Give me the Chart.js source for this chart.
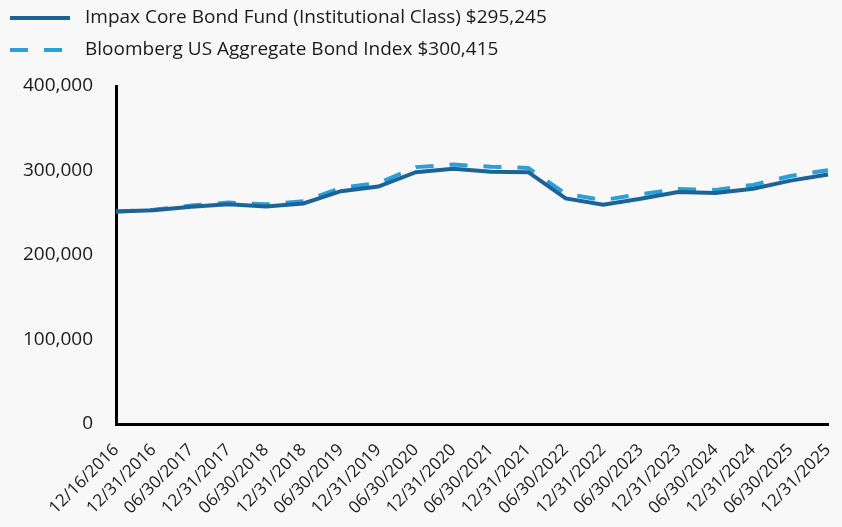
<!DOCTYPE html>
<html>
<head>
<meta charset="utf-8">
<script src="https://cdn.jsdelivr.net/npm/chart.js@4.4.1/dist/chart.umd.min.js"></script>
<style>
    html, body { margin: 0; padding: 0; background: #f8f8f8; }
    #wrap { width: 842px; height: 527px; position: relative; }
</style>
</head>
<body>
<div id="wrap"><canvas id="growthChart"></canvas></div>
<script>
const dates = ['12/16/2016', '12/31/2016', '06/30/2017', '12/31/2017', '06/30/2018', '12/31/2018',
    '06/30/2019', '12/31/2019', '06/30/2020', '12/31/2020', '06/30/2021', '12/31/2021',
    '06/30/2022', '12/31/2022', '06/30/2023', '12/31/2023', '06/30/2024', '12/31/2024',
    '06/30/2025', '12/31/2025'];

const fundValues = [251500, 253000, 257000, 260000, 257500, 261000, 275500, 281000, 298000, 302000,
    298500, 298000, 267000, 259500, 266500, 274500, 273500, 278500, 288000, 295245];

const indexValues = [251500, 253500, 258500, 262000, 260000, 263500, 279500, 285000, 304000, 307000,
    304500, 303000, 272500, 265000, 272000, 278000, 277000, 283000, 293500, 300415];

const yTicks = [0, 100000, 200000, 300000, 400000];

const fundLabel = 'Impax Core Bond Fund (Institutional Class) $295,245';
const indexLabel = 'Bloomberg US Aggregate Bond Index $300,415';

const FONT = '"Open Sans", sans-serif';

// legend drawn by hand, stacked on two rows at top left
const stackedLegend = {
    id: 'stackedLegend',
    afterDraw(chart) {
        const { ctx } = chart;
        const rows = [
            { ds: chart.data.datasets[0], y: 18 },
            { ds: chart.data.datasets[1], y: 50 }
        ];
        rows.forEach(row => {
            ctx.save();
            ctx.strokeStyle = row.ds.borderColor;
            ctx.lineWidth = 4;
            ctx.setLineDash(row.ds.borderDash || []);
            ctx.beginPath();
            ctx.moveTo(10, row.y);
            ctx.lineTo(70, row.y);
            ctx.stroke();
            ctx.setLineDash([]);
            ctx.fillStyle = '#1a1a1a';
            ctx.font = '19px ' + FONT;
            ctx.textAlign = 'left';
            ctx.textBaseline = 'middle';
            ctx.fillText(row.ds.label, 85, row.y);
            ctx.restore();
        });
    }
};

new Chart(document.getElementById('growthChart'), {
    type: 'line',
    data: {
        labels: dates,
        datasets: [{
            label: fundLabel,
            data: fundValues,
            borderColor: '#1c6397',
            borderWidth: 4,
            pointRadius: 0,
            tension: 0,
            order: 1
        }, {
            label: indexLabel,
            data: indexValues,
            borderColor: '#2aa0da',
            borderWidth: 4,
            borderDash: [18, 16],
            pointRadius: 0,
            tension: 0,
            order: 2
        }]
    },
    options: {
        responsive: true,
        maintainAspectRatio: false,
        animation: false,
        layout: {
            padding: { top: 86, left: 0, right: 14, bottom: 0 }
        },
        scales: {
            x: {
                offset: false,
                grid: { display: false, drawTicks: false },
                border: { display: true, color: '#000', width: 3 },
                ticks: {
                    color: '#1a1a1a',
                    font: { family: FONT, size: 17 },
                    maxRotation: 45,
                    minRotation: 45,
                    autoSkip: false,
                    padding: 16
                },
                afterFit: (axis) => {
                    axis.height = 103;
                    axis.paddingRight = 0;
                }
            },
            y: {
                min: 0,
                max: 400000,
                afterBuildTicks: (axis) => {
                    axis.ticks = yTicks.map(v => ({ value: v }));
                },
                grid: { display: false, drawTicks: false },
                border: { display: true, color: '#000', width: 3 },
                ticks: {
                    color: '#1a1a1a',
                    font: { family: FONT, size: 19 },
                    padding: 23,
                    callback: (v) => v.toLocaleString('en-US')
                }
            }
        },
        plugins: {
            legend: { display: false },
            tooltip: { enabled: false }
        }
    },
    plugins: [stackedLegend]
});
</script>
</body>
</html>
